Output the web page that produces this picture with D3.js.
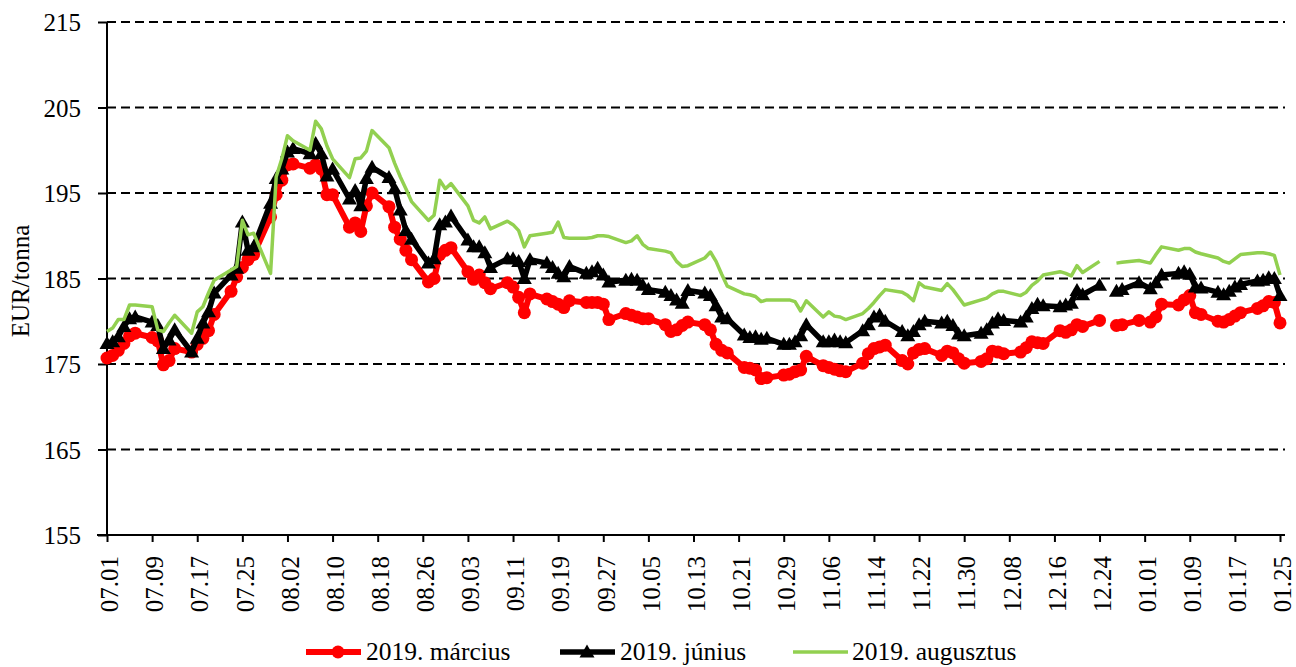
<!DOCTYPE html>
<html>
<head>
<meta charset="utf-8">
<script src="https://cdn.jsdelivr.net/npm/d3@7"></script>
<style>
  body { margin: 0; background: #fff; }
  svg { display: block; font-family: "Liberation Serif", "Times New Roman", serif; }
  .grid line { stroke: #000; stroke-width: 1.8; stroke-dasharray: 9,5; }
</style>
</head>
<body>
<script>
// trading days (MM.DD), jul 2018 - jan 2019
var dates = [
  "07.01","07.02","07.03","07.04","07.05","07.06","07.09","07.10","07.11","07.12","07.13","07.16","07.17","07.18","07.19","07.20","07.23","07.24","07.25","07.26","07.27","07.30","07.31",
  "08.01","08.02","08.03","08.06","08.07","08.08","08.09","08.10","08.13","08.14","08.15","08.16","08.17","08.20","08.21","08.22","08.23","08.24","08.27","08.28","08.29","08.30","08.31",
  "09.03","09.04","09.05","09.06","09.07","09.10","09.11","09.12","09.13","09.14","09.17","09.18","09.19","09.20","09.21","09.24","09.25","09.26","09.27","09.28",
  "10.01","10.02","10.03","10.04","10.05","10.08","10.09","10.10","10.11","10.12","10.15","10.16","10.17","10.18","10.19","10.22","10.23","10.24","10.25","10.26","10.29","10.30","10.31",
  "11.01","11.02","11.05","11.06","11.07","11.08","11.09","11.12","11.13","11.14","11.15","11.16","11.19","11.20","11.21","11.22","11.23","11.26","11.27","11.28","11.29","11.30",
  "12.03","12.04","12.05","12.06","12.07","12.10","12.11","12.12","12.13","12.14","12.17","12.18","12.19","12.20","12.21","12.24","12.25","12.26","12.27","12.28","12.31",
  "01.02","01.03","01.04","01.07","01.08","01.09","01.10","01.11","01.14","01.15","01.16","01.17","01.18","01.21","01.22","01.23","01.24","01.25"
];

var marcius = [
  175.7,176.0,176.6,177.4,178.3,178.6, 178.1,177.7,174.9,175.4,176.8, 176.4,177.3,178.0,178.9,180.8, 183.5,185.2,186.3,187.2,187.8, 192.2,194.8,
  196.5,198.3,198.4, 197.9,198.3,197.8,194.8,194.8, 191.0,191.5,190.5,193.5,195.0, 193.4,191.0,189.6,188.3,187.2, 184.6,185.0,187.8,188.3,188.6,
  185.8,184.9,185.4,184.5,183.8, 184.5,184.0,182.8,181.0,183.2, 182.6,182.3,182.0,181.6,182.4, 182.2,182.2,182.2,182.0,180.2,
  180.9,180.7,180.5,180.3,180.3, 179.6,178.8,179.0,179.5,179.9, 179.6,179.0,177.3,176.6,176.3, 174.6,174.5,174.3,173.3,173.4, 173.7,173.8,174.1,
  174.3,175.9, 174.8,174.6,174.4,174.2,174.1, 175.1,176.2,176.8,177.0,177.2, 175.4,175.0,176.3,176.7,176.8, 176.0,176.5,176.3,175.6,175.1,
  175.3,175.6,176.5,176.4,176.2, 176.4,176.9,177.6,177.5,177.4, 178.9,178.7,179.0,179.6,179.4, 180.1,null,null,179.5,179.6, 180.1,
  179.9,180.5,182.0, 181.9,182.5,183.0,181.0,180.8, 180.0,179.9,180.2,180.6,181.0, 181.5,181.8,182.3,182.2,179.8
];

var junius = [
  177.4,177.6,178.2,179.4,180.3,180.5, 179.9,179.5,176.8,177.8,179.0, 176.4,178.0,179.8,181.1,183.3, 185.4,186.2,191.6,188.3,188.7, 193.8,196.7,
  197.8,199.8,200.2, 199.6,200.8,199.6,197.0,197.8, 194.3,195.3,193.5,196.7,198.0, 196.8,195.5,193.0,190.6,189.6, 186.8,187.3,191.3,191.6,192.3,
  189.5,188.7,188.7,188.0,186.3, 187.3,187.3,187.0,185.0,187.2, 186.8,186.3,185.6,185.2,186.4, 185.6,185.8,186.2,185.4,184.6,
  184.8,184.9,184.8,184.2,183.7, 183.4,183.0,182.5,182.1,183.6, 183.3,183.0,181.8,180.5,180.3, 178.4,178.1,178.2,177.9,178.0, 177.3,177.3,177.6,
  178.3,179.6, 177.6,177.6,177.8,177.6,177.5, 178.9,179.6,180.5,180.7,180.0, 178.8,178.3,178.8,179.6,180.0, 179.8,180.0,179.5,178.5,178.3,
  178.6,179.0,179.8,180.3,180.1, 179.9,180.5,181.5,182.0,181.8, 181.7,181.9,182.1,183.6,183.1, 184.2,null,null,183.5,183.7, 184.5,
  183.8,184.5,185.4, 185.6,185.8,185.5,184.0,183.9, 183.4,183.1,183.5,184.0,184.3, 184.7,184.8,185.1,185.0,183.0
];

var augusztus = [
  178.8,179.2,180.2,180.2,181.9,181.9, 181.7,179.0,178.8,179.8,180.7, 178.6,181.1,181.7,183.3,184.8, 186.0,186.4,191.8,190.1,190.3, 185.6,196.9,
  199.0,201.7,201.1, 200.0,203.4,202.5,200.5,199.0, 196.8,199.0,199.1,199.9,202.3, 200.3,198.5,196.9,195.5,194.0, 191.8,192.4,196.5,195.5,196.1,
  193.5,191.8,191.5,192.2,190.8, 191.7,191.3,190.6,188.7,190.0, 190.3,190.4,191.6,189.8,189.7, 189.7,189.8,190.0,190.0,189.9,
  189.2,189.4,190.0,189.0,188.5, 188.2,188.0,187.0,186.4,186.5, 187.4,188.1,187.0,185.5,184.1, 183.2,183.1,182.9,182.3,182.5, 182.5,182.5,182.3,
  181.2,182.4, 180.5,181.1,180.6,180.5,180.2, 180.9,181.5,182.2,183.0,183.7, 183.4,183.0,182.4,184.5,184.0, 183.6,184.4,183.7,182.8,181.9,
  182.5,182.7,183.2,183.5,183.5, 183.0,183.4,184.2,184.7,185.4, 185.8,185.6,185.3,186.5,185.7, 187.0,null,null,186.8,186.9, 187.1,
  186.8,187.8,188.7, 188.3,188.5,188.5,188.1,187.9, 187.4,187.0,186.8,187.3,187.8, 188.0,188.0,187.9,187.7,185.4
];

var tickLabels = ["07.01","07.09","07.17","07.25","08.02","08.10","08.18","08.26","09.03","09.11","09.19","09.27",
  "10.05","10.13","10.21","10.29","11.06","11.14","11.22","11.30","12.08","12.16","12.24","01.01","01.09","01.17","01.25"];
var yTicks = [155, 165, 175, 185, 195, 205, 215];

var seriesNames = ["2019. március", "2019. június", "2019. augusztus"];
var colors = ["#ff0000", "#000000", "#92d050"];

function parseDay(s) {
  var p = s.split(".").map(Number);
  return new Date(Date.UTC(p[0] >= 7 ? 2018 : 2019, p[0] - 1, p[1]));
}

var W = 1296, H = 667;
var plotL = 107, plotR = 1280, plotT = 22, plotB = 535, axisEnd = 1285;

var svg = d3.select("body").append("svg").attr("width", W).attr("height", H);

var x = d3.scaleUtc().domain([parseDay("07.01"), parseDay("01.25")]).range([plotL, plotR]);
var y = d3.scaleLinear().domain([155, 215]).range([plotB, plotT]);

// grid
svg.append("g").attr("class", "grid")
  .selectAll("line").data(yTicks.slice(1)).enter().append("line")
  .attr("x1", plotL).attr("x2", axisEnd)
  .attr("y1", function(d) { return y(d); }).attr("y2", function(d) { return y(d); });

// y axis
var yAxis = svg.append("g").attr("transform", "translate(" + plotL + ",0)")
  .call(d3.axisLeft(y).tickValues(yTicks).tickSize(9).tickPadding(17).tickFormat(d3.format("d")));
yAxis.select(".domain").remove();
yAxis.append("line").attr("x1", 0).attr("x2", 0).attr("y1", plotT).attr("y2", plotB)
  .attr("stroke", "#000").attr("stroke-width", 2);
yAxis.selectAll(".tick line").attr("stroke", "#000").attr("stroke-width", 2);
yAxis.selectAll(".tick text").attr("font-size", 25).attr("fill", "#000")
  .attr("font-family", "Liberation Serif").attr("dy", "0.35em");

// x axis
var xAxis = svg.append("g").attr("transform", "translate(0," + plotB + ")")
  .call(d3.axisBottom(x).tickValues(tickLabels.map(parseDay)).tickSize(7).tickFormat(""));
xAxis.select(".domain").remove();
xAxis.append("line").attr("x1", plotL - 10).attr("x2", axisEnd).attr("stroke", "#000").attr("stroke-width", 2);
xAxis.selectAll(".tick line").attr("stroke", "#000").attr("stroke-width", 2);
xAxis.selectAll(".tick").append("text")
  .text(function(d, i) { return tickLabels[i]; })
  .attr("transform", "translate(2,21) rotate(-90)")
  .attr("text-anchor", "end").attr("dy", "0.35em")
  .attr("font-size", 25).attr("fill", "#000").attr("font-family", "Liberation Serif");

// y title
svg.append("text").attr("transform", "translate(29,281) rotate(-90)")
  .attr("text-anchor", "middle").attr("font-size", 25).text("EUR/tonna");

// series
var allSeries = [marcius, junius, augusztus];
var widths = [6, 5.5, 3.5];
var line = d3.line()
  .defined(function(d) { return d.v !== null; })
  .x(function(d) { return x(d.t); })
  .y(function(d) { return y(d.v); });

var tri = "M0,-7.5L7.5,5.5L-7.5,5.5Z";

allSeries.forEach(function(vals, si) {
  var pts = dates.map(function(s, i) { return { t: parseDay(s), v: vals[i] }; });
  var g = svg.append("g");
  g.append("path").datum(pts).attr("d", line)
    .attr("fill", "none").attr("stroke", colors[si]).attr("stroke-width", widths[si])
    .attr("stroke-linejoin", "round");
  var defined = pts.filter(function(d) { return d.v !== null; });
  if (si === 0) {
    g.selectAll("circle").data(defined).enter().append("circle")
      .attr("cx", function(d) { return x(d.t); }).attr("cy", function(d) { return y(d.v); })
      .attr("r", 6.5).attr("fill", colors[si]);
  } else if (si === 1) {
    g.selectAll("path.m").data(defined).enter().append("path").attr("class", "m")
      .attr("d", tri).attr("fill", colors[si])
      .attr("transform", function(d) { return "translate(" + x(d.t) + "," + y(d.v) + ")"; });
  }
});

// legend
var legendX = [306, 560, 793];
var legendY = 652;
seriesNames.forEach(function(name, i) {
  var g = svg.append("g").attr("transform", "translate(" + legendX[i] + "," + legendY + ")");
  g.append("line").attr("x1", 0).attr("x2", 55).attr("stroke", colors[i]).attr("stroke-width", widths[i]);
  if (i === 0) g.append("circle").attr("cx", 32).attr("r", 6.5).attr("fill", colors[i]);
  if (i === 1) g.append("path").attr("d", tri).attr("fill", colors[i]).attr("transform", "translate(27,0)");
  g.append("text").attr("x", i === 2 ? 59 : 60).attr("y", 8).attr("font-size", 25.5).attr("fill", "#000").text(name);
});
</script>
</body>
</html>
